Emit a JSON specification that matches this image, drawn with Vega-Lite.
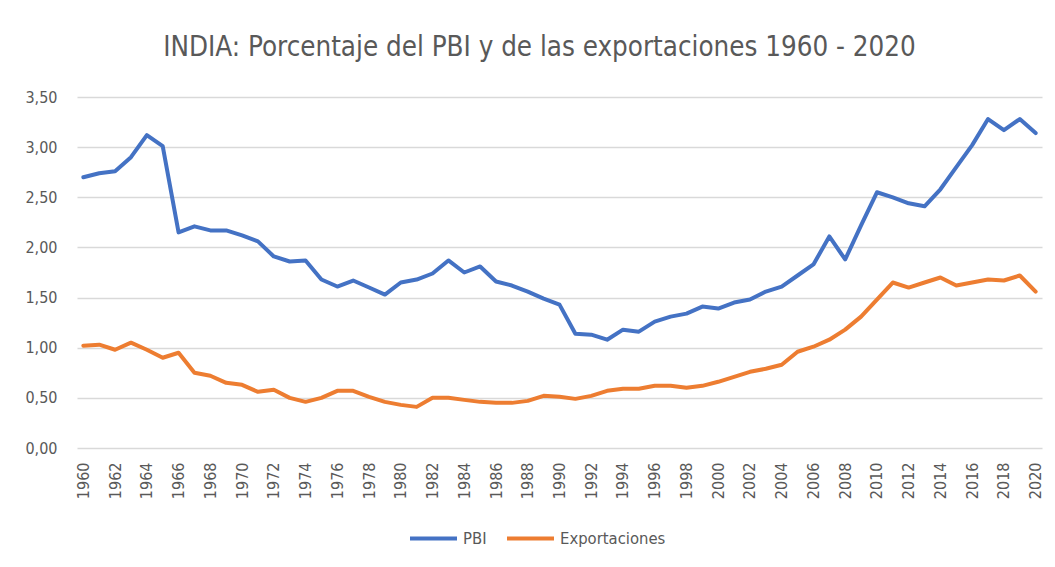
{
  "$schema": "https://vega.github.io/schema/vega-lite/v6.json",
  "width": 965,
  "height": 351,
  "autosize": {"type": "none"},
  "padding": {"left": 77, "top": 97, "right": 13, "bottom": 119},
  "background": "white",
  "title": {
    "text": "INDIA: Porcentaje del PBI y de las exportaciones 1960 - 2020",
    "font": "Liberation Sans Narrow, DejaVu Sans Condensed, sans-serif",
    "fontSize": 27.5,
    "fontWeight": "normal",
    "color": "#595959",
    "anchor": "middle",
    "dx": -20,
    "offset": 28
  },
  "data": {
    "values": [
      {"year": 1960, "PBI": 2.70, "Exportaciones": 1.02},
      {"year": 1961, "PBI": 2.74, "Exportaciones": 1.03},
      {"year": 1962, "PBI": 2.76, "Exportaciones": 0.98},
      {"year": 1963, "PBI": 2.90, "Exportaciones": 1.05},
      {"year": 1964, "PBI": 3.12, "Exportaciones": 0.98},
      {"year": 1965, "PBI": 3.01, "Exportaciones": 0.90},
      {"year": 1966, "PBI": 2.15, "Exportaciones": 0.95},
      {"year": 1967, "PBI": 2.21, "Exportaciones": 0.75},
      {"year": 1968, "PBI": 2.17, "Exportaciones": 0.72},
      {"year": 1969, "PBI": 2.17, "Exportaciones": 0.65},
      {"year": 1970, "PBI": 2.12, "Exportaciones": 0.63},
      {"year": 1971, "PBI": 2.06, "Exportaciones": 0.56},
      {"year": 1972, "PBI": 1.91, "Exportaciones": 0.58},
      {"year": 1973, "PBI": 1.86, "Exportaciones": 0.50},
      {"year": 1974, "PBI": 1.87, "Exportaciones": 0.46},
      {"year": 1975, "PBI": 1.68, "Exportaciones": 0.50},
      {"year": 1976, "PBI": 1.61, "Exportaciones": 0.57},
      {"year": 1977, "PBI": 1.67, "Exportaciones": 0.57},
      {"year": 1978, "PBI": 1.60, "Exportaciones": 0.51},
      {"year": 1979, "PBI": 1.53, "Exportaciones": 0.46},
      {"year": 1980, "PBI": 1.65, "Exportaciones": 0.43},
      {"year": 1981, "PBI": 1.68, "Exportaciones": 0.41},
      {"year": 1982, "PBI": 1.74, "Exportaciones": 0.50},
      {"year": 1983, "PBI": 1.87, "Exportaciones": 0.50},
      {"year": 1984, "PBI": 1.75, "Exportaciones": 0.48},
      {"year": 1985, "PBI": 1.81, "Exportaciones": 0.46},
      {"year": 1986, "PBI": 1.66, "Exportaciones": 0.45},
      {"year": 1987, "PBI": 1.62, "Exportaciones": 0.45},
      {"year": 1988, "PBI": 1.56, "Exportaciones": 0.47},
      {"year": 1989, "PBI": 1.49, "Exportaciones": 0.52},
      {"year": 1990, "PBI": 1.43, "Exportaciones": 0.51},
      {"year": 1991, "PBI": 1.14, "Exportaciones": 0.49},
      {"year": 1992, "PBI": 1.13, "Exportaciones": 0.52},
      {"year": 1993, "PBI": 1.08, "Exportaciones": 0.57},
      {"year": 1994, "PBI": 1.18, "Exportaciones": 0.59},
      {"year": 1995, "PBI": 1.16, "Exportaciones": 0.59},
      {"year": 1996, "PBI": 1.26, "Exportaciones": 0.62},
      {"year": 1997, "PBI": 1.31, "Exportaciones": 0.62},
      {"year": 1998, "PBI": 1.34, "Exportaciones": 0.60},
      {"year": 1999, "PBI": 1.41, "Exportaciones": 0.62},
      {"year": 2000, "PBI": 1.39, "Exportaciones": 0.66},
      {"year": 2001, "PBI": 1.45, "Exportaciones": 0.71},
      {"year": 2002, "PBI": 1.48, "Exportaciones": 0.76},
      {"year": 2003, "PBI": 1.56, "Exportaciones": 0.79},
      {"year": 2004, "PBI": 1.61, "Exportaciones": 0.83},
      {"year": 2005, "PBI": 1.72, "Exportaciones": 0.96},
      {"year": 2006, "PBI": 1.83, "Exportaciones": 1.01},
      {"year": 2007, "PBI": 2.11, "Exportaciones": 1.08},
      {"year": 2008, "PBI": 1.88, "Exportaciones": 1.18},
      {"year": 2009, "PBI": 2.22, "Exportaciones": 1.31},
      {"year": 2010, "PBI": 2.55, "Exportaciones": 1.48},
      {"year": 2011, "PBI": 2.50, "Exportaciones": 1.65},
      {"year": 2012, "PBI": 2.44, "Exportaciones": 1.60},
      {"year": 2013, "PBI": 2.41, "Exportaciones": 1.65},
      {"year": 2014, "PBI": 2.58, "Exportaciones": 1.70},
      {"year": 2015, "PBI": 2.80, "Exportaciones": 1.62},
      {"year": 2016, "PBI": 3.02, "Exportaciones": 1.65},
      {"year": 2017, "PBI": 3.28, "Exportaciones": 1.68},
      {"year": 2018, "PBI": 3.17, "Exportaciones": 1.67},
      {"year": 2019, "PBI": 3.28, "Exportaciones": 1.72},
      {"year": 2020, "PBI": 3.14, "Exportaciones": 1.56}
    ]
  },
  "transform": [{"fold": ["PBI", "Exportaciones"], "as": ["serie", "valor"]}],
  "mark": {"type": "line", "strokeWidth": 4, "strokeCap": "round", "strokeJoin": "round"},
  "encoding": {
    "x": {
      "field": "year",
      "type": "quantitative",
      "scale": {"domain": [1959.6, 2020.4], "nice": false, "zero": false},
      "axis": {
        "title": null,
        "values": [1960,1962,1964,1966,1968,1970,1972,1974,1976,1978,1980,1982,1984,1986,1988,1990,1992,1994,1996,1998,2000,2002,2004,2006,2008,2010,2012,2014,2016,2018,2020],
        "format": "d",
        "labelAngle": -90,
        "grid": false,
        "ticks": false,
        "domain": false,
        "labelFont": "Liberation Sans Narrow, DejaVu Sans Condensed, sans-serif",
        "labelFontSize": 16,
        "labelColor": "#595959",
        "labelPadding": 14,
        "labelOverlap": false
      }
    },
    "y": {
      "field": "valor",
      "type": "quantitative",
      "scale": {"domain": [0, 3.5], "nice": false},
      "axis": {
        "title": null,
        "values": [0, 0.5, 1, 1.5, 2, 2.5, 3, 3.5],
        "labelExpr": "replace(format(datum.value, '.2f'), '.', ',')",
        "domain": false,
        "ticks": false,
        "gridColor": "#d9d9d9",
        "gridWidth": 1.5,
        "labelFont": "Liberation Sans Narrow, DejaVu Sans Condensed, sans-serif",
        "labelFontSize": 16,
        "labelColor": "#595959",
        "labelPadding": 20
      }
    },
    "color": {
      "field": "serie",
      "type": "nominal",
      "scale": {"domain": ["PBI", "Exportaciones"], "range": ["#4472C4", "#ED7D31"]},
      "legend": {
        "title": null,
        "orient": "none",
        "direction": "horizontal",
        "legendX": 331,
        "legendY": 416,
        "symbolType": "stroke",
        "symbolSize": 2209,
        "symbolStrokeWidth": 4,
        "labelFont": "Liberation Sans Narrow, DejaVu Sans Condensed, sans-serif",
        "labelFontSize": 16.5,
        "labelColor": "#595959",
        "columnPadding": 12,
        "labelOffset": 4
      }
    }
  },
  "config": {"view": {"stroke": null}}
}
